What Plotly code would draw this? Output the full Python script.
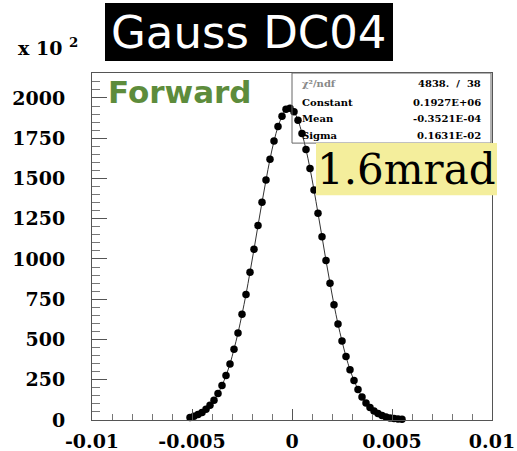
import plotly.graph_objects as go

# Bin centres (rad) and histogram contents (x10^2 entries)
bin_centers = [
    -0.0051, -0.0049, -0.0047, -0.0045, -0.0043, -0.0041, -0.0039, -0.0037,
    -0.0035, -0.0033, -0.0031, -0.0029, -0.0027, -0.0025, -0.0023, -0.0021,
    -0.0019, -0.0017, -0.0015, -0.0013, -0.0011, -0.0009, -0.0007, -0.0005,
    -0.0003, -0.0001, 0.0001, 0.0003, 0.0005, 0.0007, 0.0009, 0.0011,
    0.0013, 0.0015, 0.0017, 0.0019, 0.0021, 0.0023, 0.0025, 0.0027,
    0.0029, 0.0031, 0.0033, 0.0035, 0.0037, 0.0039, 0.0041, 0.0043,
    0.0045, 0.0047, 0.0049, 0.0051, 0.0053, 0.0055,
]
counts = [
    15, 23, 34, 47, 66, 92, 122, 164,
    214, 276, 348, 440, 540, 656, 780, 918,
    1060, 1208, 1352, 1490, 1620, 1732, 1822, 1886,
    1930, 1936, 1914, 1862, 1780, 1680, 1562, 1428,
    1284, 1138, 990, 850, 716, 596, 490, 394,
    312, 246, 190, 143, 106, 78, 56, 40,
    28, 19, 13, 9, 6, 4,
]

x_tick_vals = [-0.01, -0.005, 0, 0.005, 0.01]
x_tick_text = ["-0.01", "-0.005", "0", "0.005", "0.01"]
y_tick_vals = [0, 250, 500, 750, 1000, 1250, 1500, 1750, 2000]
y_tick_text = ["0", "250", "500", "750", "1000", "1250", "1500", "1750", "2000"]

stat_labels = ["χ²/ndf", "Constant", "Mean", "Sigma"]
stat_values = ["4838.  /  38", "0.1927E+06", "-0.3521E-04", "0.1631E-02"]

title_text = "Gauss DC04"
tag_text = "Forward"
note_text = "1.6mrad"
scale_text = "x 10 <sup>2</sup>"

fig = go.Figure()
fig.add_trace(go.Scatter(
    x=bin_centers, y=counts, mode="lines+markers",
    line=dict(color="#333333", width=1, shape="spline"),
    marker=dict(color="black", size=7.5, symbol="circle"),
    showlegend=False, cliponaxis=False,
))

serif = "DejaVu Serif"
fig.update_layout(
    width=517, height=451,
    margin=dict(l=92, r=25, t=73, b=31, autoexpand=False),
    paper_bgcolor="white", plot_bgcolor="white",
    xaxis=dict(
        range=[-0.01, 0.01], tickvals=x_tick_vals, ticktext=x_tick_text,
        ticks="inside", ticklen=11, tickcolor="#555", tickwidth=1,
        minor=dict(dtick=0.001, ticks="inside", ticklen=6, tickcolor="#777"),
        showline=True, linecolor="#555", linewidth=1, mirror=True,
        showgrid=False, zeroline=False, automargin=False,
        tickfont=dict(family=serif, size=19, color="black", weight="bold"),
        ticklabelstandoff=4,
    ),
    yaxis=dict(
        range=[0, 2155], tickvals=y_tick_vals, ticktext=y_tick_text,
        ticks="inside", ticklen=15, tickcolor="#555", tickwidth=1,
        minor=dict(dtick=50, ticks="inside", ticklen=8, tickcolor="#777"),
        showline=True, linecolor="#555", linewidth=1, mirror=True,
        showgrid=False, zeroline=False, automargin=False,
        tickfont=dict(family=serif, size=19, color="black", weight="bold"),
        ticklabelstandoff=22,
    ),
)

shapes = [
    # stat box
    dict(type="rect", xref="paper", yref="paper", x0=0.5, x1=0.9975, y0=0.798, y1=1.0,
         line=dict(color="#666", width=1), fillcolor="rgba(255,255,255,0)", layer="above"),
    # yellow label box
    dict(type="rect", xref="paper", yref="paper", x0=0.56, x1=1.0125, y0=0.648, y1=0.798,
         line=dict(width=0), fillcolor="#f4ee9c", layer="above"),
    # title box
    dict(type="rect", xref="paper", yref="paper", x0=0.0325, x1=0.7525, y0=1.0346, y1=1.2017,
         line=dict(width=0), fillcolor="black", layer="above"),
]
fig.update_layout(shapes=shapes)

ann = []
ann.append(dict(text=title_text, xref="paper", yref="paper", x=0.3925, y=1.118,
                xanchor="center", yanchor="middle", showarrow=False,
                font=dict(family="DejaVu Sans", size=45, color="white")))
ann.append(dict(text=scale_text, xref="paper", yref="paper", x=-0.19, y=1.075,
                xanchor="left", yanchor="middle", showarrow=False,
                font=dict(family=serif, size=19, color="black", weight="bold")))
ann.append(dict(text=tag_text, xref="paper", yref="paper", x=0.035, y=0.945,
                xanchor="left", yanchor="middle", showarrow=False,
                font=dict(family="DejaVu Sans", size=31, color="#5d8c3c", weight="bold")))
ann.append(dict(text=note_text, xref="paper", yref="paper", x=0.785, y=0.723,
                xanchor="center", yanchor="middle", showarrow=False,
                font=dict(family=serif, size=42, color="black")))
row_y = [0.971, 0.916, 0.870, 0.821]
for i, (lab, val) in enumerate(zip(stat_labels, stat_values)):
    col = "#888" if i == 0 else "black"
    ann.append(dict(text=lab, xref="paper", yref="paper", x=0.52, y=row_y[i],
                    xanchor="left", yanchor="middle", showarrow=False,
                    font=dict(family=serif, size=10, color=col, weight="bold")))
    ann.append(dict(text=val, xref="paper", yref="paper", x=0.9775, y=row_y[i],
                    xanchor="right", yanchor="middle", showarrow=False,
                    font=dict(family=serif, size=10, color="black", weight="bold")))
fig.update_layout(annotations=ann)

fig.write_html("out.html", config={"displayModeBar": False},
               post_script="document.body.style.margin='0px';")
